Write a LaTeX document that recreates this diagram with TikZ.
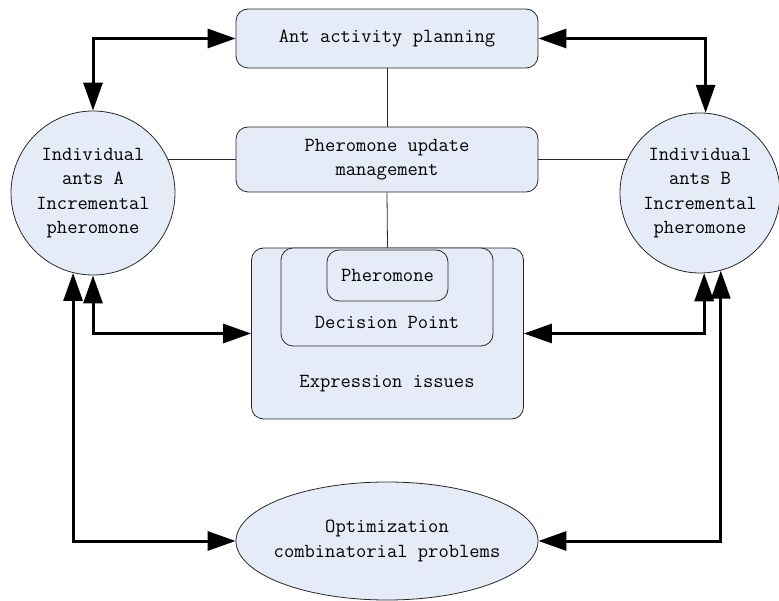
\documentclass[tikz,border=0pt]{standalone}
\usetikzlibrary{arrows.meta,shapes.geometric}
\definecolor{boxfill}{RGB}{230,236,247}
\definecolor{edge}{RGB}{40,40,40}
\begin{document}
\begin{tikzpicture}[x=1pt,y=-1pt,
  box/.style={draw=edge,fill=boxfill,rounded corners=12pt,line width=0.8pt,align=center,inner sep=0pt},
  circ/.style={draw=edge,fill=boxfill,circle,line width=0.8pt,align=center,inner sep=0pt},
  oval/.style={draw=edge,fill=boxfill,ellipse,line width=0.8pt,align=center,inner sep=0pt},
  link/.style={draw=edge,line width=0.8pt},
  arr/.style={line width=3pt,{Triangle[length=28pt,width=19pt]}-{Triangle[length=28pt,width=19pt]}},
  font=\ttfamily\fontsize{20pt}{24.5pt}\selectfont]
\useasboundingbox (0,0) rectangle (779,601);

\node[box,minimum width=302pt,minimum height=59pt] (ant) at (387,38.5) {Ant activity planning};
\node[box,minimum width=302pt,minimum height=65pt] (upd) at (387,159.5) {Pheromone update\\management};
\node[box,minimum width=272pt,minimum height=171pt] (expr) at (387.5,333.5) {};
\node[box,minimum width=212pt,minimum height=98pt] (dec) at (387,297) {};
\node[box,minimum width=121pt,minimum height=51pt] (pher) at (387.5,275.5) {Pheromone};
\node (dectext) at (387,322) {Decision Point};
\node (exprtext) at (387,384) {Expression issues};

\node[circ,minimum size=164pt] (A) at (93,193) {Individual\\ants A\\Incremental\\pheromone};
\node[circ,minimum size=160pt] (B) at (700,193) {Individual\\ants B\\Incremental\\pheromone};
\node[oval,minimum width=302pt,minimum height=118pt] (opt) at (387,541) {};
\node[align=center] (opttext) at (opt.center) {Optimization\\combinatorial problems};

\draw[link] (ant.south) -- (upd.north);
\draw[link] (upd.south) -- (expr.north);
\draw[link] (upd.west) -- (upd.west -| A.24);
\draw[link] (upd.east) -- (upd.east -| B.155);

\draw[arr] (A.north) |- (ant.west);
\draw[arr] (B.86) |- (ant.east);
\draw[arr] (A.south) |- (expr.west);
\draw[arr] (A.256) |- (opt.west);
\draw[arr] (B.273) |- (expr.east);
\draw[arr] (B.285) |- (opt.east);
\end{tikzpicture}
\end{document}
